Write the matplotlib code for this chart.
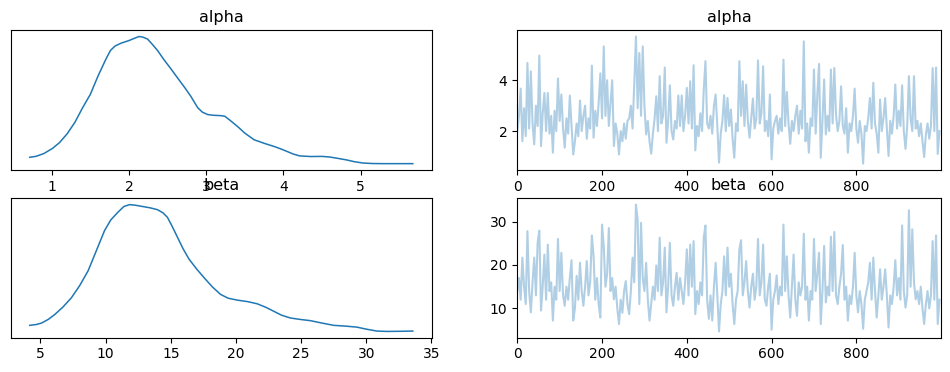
import numpy as np
import matplotlib
matplotlib.use("Agg")
import matplotlib.pyplot as plt

# KDE curves (x value, relative density)
alpha_kde_x = [0.716, 0.80, 0.90, 1.01, 1.10, 1.20, 1.30, 1.40, 1.50, 1.60, 1.70, 1.76,
               1.82, 1.90, 2.00, 2.08, 2.13, 2.18, 2.24, 2.30, 2.37, 2.45, 2.55, 2.64,
               2.72, 2.80, 2.89, 2.95, 3.02, 3.10, 3.18, 3.24, 3.30, 3.41, 3.50, 3.62,
               3.75, 3.88, 3.97, 4.05, 4.13, 4.21, 4.35, 4.50, 4.60, 4.70, 4.82, 4.92,
               5.03, 5.15, 5.29, 5.675]
alpha_kde_y = [0.05, 0.058, 0.08, 0.12, 0.165, 0.235, 0.325, 0.44, 0.545, 0.69, 0.82, 0.89,
               0.925, 0.948, 0.968, 0.988, 1.0, 0.995, 0.98, 0.94, 0.89, 0.82, 0.74, 0.665,
               0.60, 0.53, 0.44, 0.405, 0.386, 0.38, 0.378, 0.373, 0.345, 0.29, 0.24, 0.188,
               0.16, 0.135, 0.115, 0.095, 0.075, 0.061, 0.056, 0.057, 0.052, 0.042, 0.029,
               0.015, 0.005, 0.001, 0.0, 0.0]

beta_kde_x = [4.18, 4.7, 5.08, 5.6, 6.09, 6.7, 7.37, 8.0, 8.65, 9.3, 9.92, 10.4, 10.94,
              11.4, 11.83, 12.3, 12.73, 13.4, 13.98, 14.4, 14.74, 15.1, 15.51, 15.95,
              16.4, 17.0, 17.55, 18.2, 18.82, 19.4, 20.1, 20.9, 21.63, 22.3, 22.9, 23.5,
              24.18, 24.9, 25.71, 26.6, 27.5, 28.4, 29.28, 30.0, 30.81, 31.58, 32.5, 33.57]
beta_kde_y = [0.048, 0.055, 0.066, 0.095, 0.133, 0.19, 0.265, 0.36, 0.477, 0.64, 0.796,
              0.88, 0.94, 0.985, 1.0, 0.995, 0.987, 0.975, 0.96, 0.935, 0.90, 0.83, 0.743,
              0.65, 0.57, 0.49, 0.424, 0.35, 0.292, 0.262, 0.247, 0.235, 0.218, 0.19, 0.159,
              0.128, 0.106, 0.095, 0.085, 0.066, 0.048, 0.042, 0.034, 0.018, 0.003, 0.0,
              0.001, 0.003]

# Trace values (every 4th draw)
alpha_trace = [
    2.0, 2.6, 3.67, 1.6, 2.9, 1.8, 4.68, 2.1, 4.35, 2.3,
    1.48, 3.0, 2.2, 4.97, 1.41, 2.7, 3.5, 2.0, 3.5, 1.9,
    2.6, 1.15, 2.8, 2.0, 4.07, 2.4, 3.44, 2.1, 1.35, 2.5,
    1.9, 3.4, 2.2, 1.08, 1.6, 2.3, 1.8, 3.2, 2.0, 2.6,
    3.0, 1.7, 2.5, 2.1, 4.57, 1.74, 2.8, 2.2, 3.1, 4.27,
    2.5, 5.33, 2.6, 4.0, 2.2, 3.1, 4.0, 1.41, 2.3, 1.9,
    1.08, 2.0, 1.6, 2.3, 1.7, 2.4, 2.5, 3.0, 2.1, 3.83,
    5.72, 2.9, 5.07, 2.6, 5.33, 3.0, 1.87, 2.4, 1.6, 1.11,
    1.9, 2.5, 3.37, 2.0, 4.16, 2.3, 2.6, 4.5, 1.54, 2.4,
    3.8, 2.0, 1.67, 2.4, 2.1, 3.4, 2.2, 3.4, 2.0, 2.6,
    3.7, 2.3, 3.96, 2.1, 4.59, 1.24, 2.2, 1.8, 2.7, 2.0,
    3.63, 4.75, 2.3, 2.1, 2.6, 1.9, 3.0, 3.44, 2.2, 0.76,
    1.9, 2.4, 3.41, 2.0, 3.3, 2.2, 2.85, 1.7, 0.95, 2.3,
    2.0, 4.75, 2.6, 3.96, 2.2, 3.83, 2.4, 1.74, 2.5, 3.28,
    2.1, 2.5, 4.78, 2.3, 2.7, 4.55, 2.0, 2.4, 1.8, 3.44,
    0.89, 2.1, 2.4, 2.6, 1.9, 2.5, 2.0, 4.81, 2.2, 3.54,
    2.3, 1.5, 2.4, 2.0, 2.6, 3.0, 1.9, 2.8, 2.1, 5.53,
    1.6, 2.3, 1.15, 2.5, 2.2, 4.42, 1.9, 3.44, 4.64, 0.95,
    2.4, 4.03, 1.87, 2.6, 2.0, 4.42, 2.3, 4.48, 2.65, 2.0,
    2.4, 3.76, 2.2, 1.9, 2.9, 1.15, 2.3, 2.0, 2.6, 3.67,
    2.1, 1.54, 2.4, 1.9, 0.72, 2.2, 2.0, 2.5, 3.3, 2.1,
    3.9, 2.3, 1.9, 1.15, 3.24, 2.0, 2.5, 3.3, 2.1, 1.02,
    2.4, 1.9, 2.6, 3.83, 2.1, 2.8, 2.2, 3.8, 2.0, 1.3,
    2.2, 4.16, 2.5, 2.0, 4.16, 2.1, 2.4, 1.8, 2.3, 1.6,
    0.98, 1.87, 2.3, 1.7, 2.2, 4.48, 2.0, 4.5, 1.1, 2.0,
]
beta_trace = [
    14, 17, 12, 21.7, 15, 11, 27.8, 14, 9.1, 16,
    21.7, 13, 25.1, 27.9, 9.5, 15, 22.4, 12, 24.7, 14,
    16, 7.2, 15, 12, 26.0, 14, 22.8, 13, 10.6, 15,
    12, 17, 21.1, 7.2, 10, 17.5, 12, 20.5, 14, 10.6,
    15, 20.9, 13, 16, 26.8, 22, 12, 17, 11, 7.9,
    29.3, 24.4, 15, 18, 28.5, 14, 17, 12.1, 15, 10,
    6.4, 12, 9, 14, 16.3, 11, 8.7, 14, 21.7, 16,
    33.9, 30.5, 11, 29.7, 17, 14, 20.5, 12, 7.2, 11,
    15, 12, 19.9, 14, 26.3, 13, 16, 24, 9.1, 15,
    25.1, 13, 10.6, 15, 18.2, 12, 17, 14, 11, 16,
    23.6, 13, 24.7, 15, 25.5, 8.7, 14, 11, 16, 13,
    26.3, 29.1, 12, 7.6, 13, 7.2, 15, 20.5, 13, 4.7,
    11, 14, 22, 13, 24, 15, 18, 11, 6.4, 12,
    14, 23.6, 25.7, 13, 16, 20.9, 14, 10.2, 15, 18,
    12, 15, 26, 13, 16, 24.7, 12, 10.6, 15, 18,
    5.1, 12, 14, 17.6, 11, 15, 13, 29.3, 14, 22,
    13, 7.9, 15, 22.4, 12, 8.3, 16, 13, 15, 27.2,
    12, 15, 7.2, 14, 12, 26, 14, 18, 22.8, 6.4,
    14, 24.4, 11.4, 15, 13, 26.5, 14, 27.6, 13, 11,
    15, 18, 24.6, 12, 15, 7.2, 13, 11, 15, 22.8,
    13, 9.1, 14, 11, 5.3, 12, 14, 16, 20.5, 12,
    21.7, 14, 7.9, 13, 19, 12, 15, 19, 13, 5.6,
    13, 11, 15, 21.1, 13, 17, 12, 29.1, 14, 10.2,
    13, 32.6, 15, 28.2, 16, 12.1, 14, 11, 15, 10,
    6.4, 11, 14, 10, 13, 25.5, 12, 26.8, 6.4, 12,
]
draw_step = 4
n_draws = 1000
var_names = ["alpha", "beta"]

fig = plt.figure(figsize=(9.5, 3.72), dpi=100)
ax_kde_a = fig.add_axes([0.0112, 0.543, 0.4435, 0.376])
ax_tr_a = fig.add_axes([0.5445, 0.543, 0.4457, 0.376])
ax_kde_b = fig.add_axes([0.0112, 0.092, 0.4435, 0.375])
ax_tr_b = fig.add_axes([0.5445, 0.092, 0.4457, 0.375])

kdes = [(alpha_kde_x, alpha_kde_y), (beta_kde_x, beta_kde_y)]
traces = [alpha_trace, beta_trace]
for name, (kx, ky), tr, axk, axt in zip(var_names, kdes, traces,
                                       [ax_kde_a, ax_kde_b], [ax_tr_a, ax_tr_b]):
    axk.plot(kx, ky, color="C0", lw=1.1, solid_joinstyle="round")
    axk.set_yticks([])
    axk.set_title(name, fontsize=11.5)
    draws = np.arange(len(tr)) * draw_step
    axt.plot(draws, tr, color="C0", alpha=0.35, lw=1.5)
    axt.set_xlim(0, n_draws - 1)
    axt.set_xticks([0, 200, 400, 600, 800])
    axt.set_title(name, fontsize=11.5)

ax_kde_a.set_xticks([1, 2, 3, 4, 5])
ax_kde_b.set_xticks([5, 10, 15, 20, 25, 30, 35])
ax_tr_a.set_yticks([2, 4])
ax_tr_b.set_yticks([10, 20, 30])

fig.savefig("out.png", dpi=100)
